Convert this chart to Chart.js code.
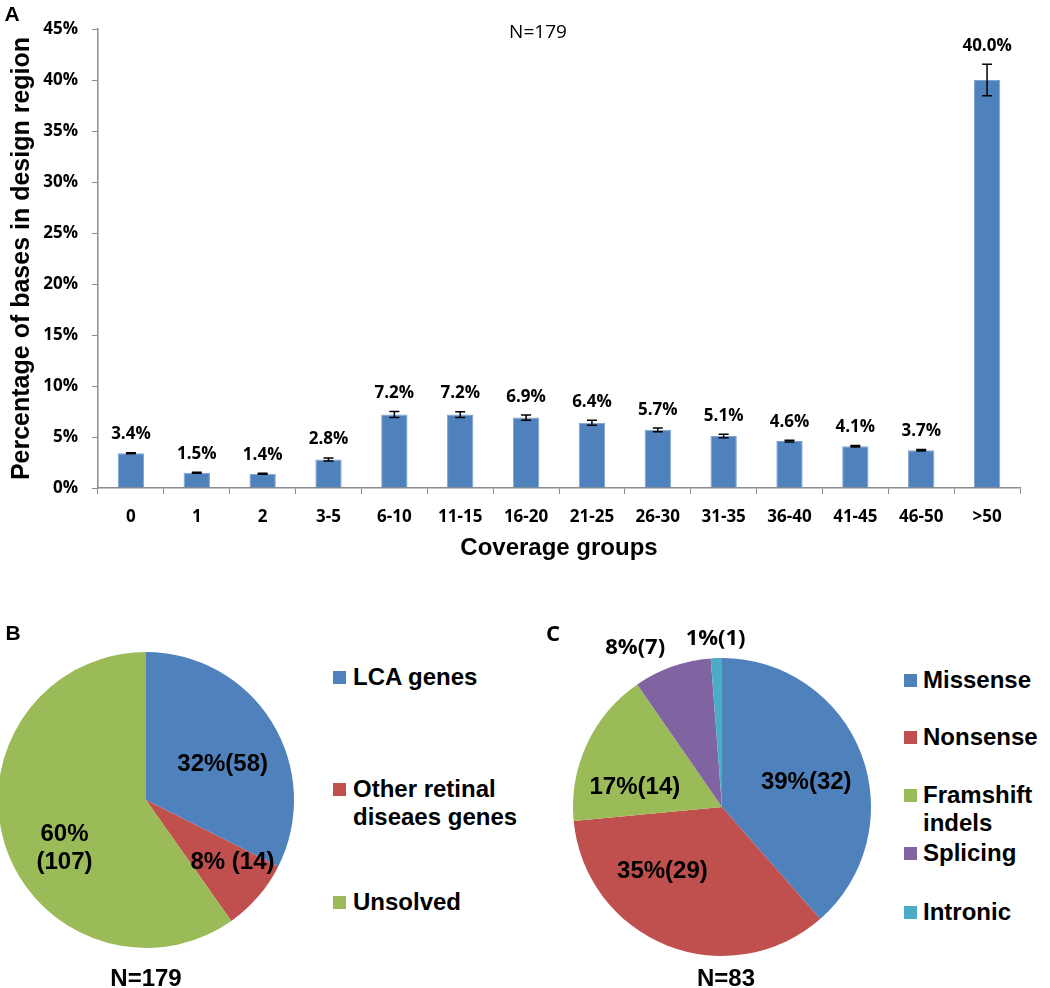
<!DOCTYPE html>
<html>
<head>
<meta charset="utf-8">
<script src="https://cdn.jsdelivr.net/npm/chart.js@4.4.0/dist/chart.umd.min.js"></script>
<style>
  html, body { margin: 0; padding: 0; background: #fff; }
  body { width: 1050px; height: 988px; position: relative; overflow: hidden; font-family: "Liberation Sans", Arial, sans-serif; }
  canvas { position: absolute; }
  .txt { position: absolute; white-space: nowrap; color: #000; font-weight: bold; line-height: 1; transform: translate(-50%, -50%); }
  .leg { position: absolute; white-space: nowrap; color: #000; font-weight: bold; font-size: 24px; line-height: 28px; }
  .sw { position: absolute; width: 13px; height: 13px; }
</style>
</head>
<body>
<canvas id="barChart" width="1050" height="590" style="left:0;top:0"></canvas>
<canvas id="pieB" width="340" height="360" style="left:-20px;top:620px"></canvas>
<canvas id="pieC" width="350" height="360" style="left:547px;top:610px"></canvas>

<div class="txt" style="left:12px;top:13px;font-size:21px">A</div>
<div class="txt" style="left:538px;top:31px;font-family:'Open Sans';font-weight:normal;font-size:19px">N=179</div>
<div class="txt" style="left:13px;top:632px;font-size:21px">B</div>
<div class="txt" style="left:553px;top:632px;font-family:'Open Sans';font-size:22px">C</div>
<div class="txt" style="left:146px;top:978px;font-size:24px">N=179</div>
<div class="txt" style="left:726px;top:978px;font-size:24px">N=83</div>
<div id="legendB"></div>
<div id="legendC"></div>

<script>
// panel A: coverage groups
const coverageGroups = ['0', '1', '2', '3-5', '6-10', '11-15', '16-20', '21-25', '26-30', '31-35', '36-40', '41-45', '46-50', '>50'];
const coveragePct = [3.4, 1.5, 1.4, 2.8, 7.2, 7.2, 6.9, 6.4, 5.7, 5.1, 4.6, 4.1, 3.7, 40.0];
const coverageErr = [0.05, 0.05, 0.05, 0.15, 0.3, 0.28, 0.25, 0.25, 0.18, 0.18, 0.08, 0.07, 0.07, 1.55];
const yTicksMax = 45;
const yTicksStep = 5;

// panel B: solved cases
const solvedLabels = [['LCA genes'], ['Other retinal', 'diseaes genes'], ['Unsolved']];
const solvedCounts = [58, 14, 107];

// panel C: mutation types
const mutationLabels = [['Missense'], ['Nonsense'], ['Framshift', 'indels'], ['Splicing'], ['Intronic']];
const mutationCounts = [32, 29, 14, 7, 1];

const officeColors = ['#4F81BD', '#C0504D', '#9BBB59', '#8064A2', '#4BACC6'];
const axisGray = '#8c8c8c';
const smallFont = 'Open Sans';

// error bars + value labels on top of each bar
const errorBarPlugin = {
    id: 'errorBars',
    afterDatasetsDraw(chart) {
        const ctx = chart.ctx;
        const y = chart.scales.y;
        const meta = chart.getDatasetMeta(0);
        ctx.save();
        ctx.strokeStyle = '#000';
        ctx.lineWidth = 1.5;
        ctx.fillStyle = '#000';
        ctx.font = 'bold 17px "' + smallFont + '"';
        ctx.textAlign = 'center';
        ctx.textBaseline = 'alphabetic';
        meta.data.forEach((bar, i) => {
            const v = coveragePct[i];
            const e = coverageErr[i];
            const top = y.getPixelForValue(v + e);
            const bot = y.getPixelForValue(v - e);
            ctx.beginPath();
            ctx.moveTo(bar.x, top); ctx.lineTo(bar.x, bot);
            ctx.moveTo(bar.x - 5, top); ctx.lineTo(bar.x + 5, top);
            ctx.moveTo(bar.x - 5, bot); ctx.lineTo(bar.x + 5, bot);
            ctx.stroke();
            ctx.fillText(v.toFixed(1) + '%', bar.x, top - 13.5);
        });
        ctx.restore();
    }
};

new Chart(document.getElementById('barChart'), {
    type: 'bar',
    data: {
        labels: coverageGroups,
        datasets: [{
            data: coveragePct,
            backgroundColor: '#4F81BD',
            borderColor: '#7ea3d0',
            borderWidth: 1,
            barPercentage: 0.4,
            categoryPercentage: 1.0
        }]
    },
    options: {
        responsive: false,
        animation: false,
        devicePixelRatio: 1,
        layout: { padding: { left: 0, right: 30, top: 29, bottom: 27.6 } },
        plugins: { legend: { display: false }, tooltip: { enabled: false } },
        scales: {
            x: {
                afterFit(scale) { scale.height = 74.4; },
                grid: { display: true, drawOnChartArea: false, drawTicks: true, tickLength: 6, color: axisGray, offset: true },
                border: { display: true, color: axisGray, width: 1.5 },
                ticks: { color: '#000', font: { family: smallFont, weight: 'bold', size: 17 }, padding: 13, maxRotation: 0 },
                title: { display: true, text: 'Coverage groups', color: '#000', font: { family: 'Liberation Sans', weight: 'bold', size: 24 }, padding: { top: 0, bottom: 0 } }
            },
            y: {
                min: 0,
                max: yTicksMax,
                afterFit(scale) { scale.width = 98; },
                grid: { display: true, drawOnChartArea: false, drawTicks: true, tickLength: 6, color: axisGray },
                border: { display: true, color: axisGray, width: 1.5 },
                ticks: { stepSize: yTicksStep, color: '#000', font: { family: smallFont, weight: 'bold', size: 17 }, padding: 14, callback: v => v + '%' },
                title: { display: true, text: 'Percentage of bases in design region', color: '#000', font: { family: 'Liberation Sans', weight: 'bold', size: 25 }, padding: { top: 7, bottom: 0 } }
            }
        }
    },
    plugins: [errorBarPlugin]
});

// text on pie slices; each label is placed by angle offset (deg) from the slice middle and radius fraction
const pieLabelPlugin = {
    id: 'pieLabels',
    afterDatasetsDraw(chart, args, opts) {
        const ctx = chart.ctx;
        const meta = chart.getDatasetMeta(0);
        const values = chart.data.datasets[0].data;
        const total = values.reduce((a, b) => a + b, 0);
        ctx.save();
        ctx.fillStyle = '#000';
        ctx.textAlign = 'center';
        ctx.textBaseline = 'middle';
        meta.data.forEach((arc, i) => {
            const place = opts.place[i];
            const mid = (arc.startAngle + arc.endAngle) / 2 + place[0] * Math.PI / 180;
            const r = arc.outerRadius * place[1];
            const cx = arc.x + Math.cos(mid) * r;
            const cy = arc.y + Math.sin(mid) * r;
            const pct = Math.round(values[i] / total * 100);
            const text = opts.format[i].replace('{p}', pct).replace('{n}', values[i]);
            const lines = text.split('\n');
            ctx.font = place[2] || 'bold 24px "Liberation Sans"';
            lines.forEach((ln, k) => {
                ctx.fillText(ln, cx, cy + (k - (lines.length - 1) / 2) * 28);
            });
        });
        ctx.restore();
    }
};

function makePie(canvasId, counts, labels, padding, labelOpts) {
    return new Chart(document.getElementById(canvasId), {
        type: 'pie',
        data: {
            labels: labels,
            datasets: [{ data: counts, backgroundColor: officeColors.slice(0, counts.length), borderWidth: 0 }]
        },
        options: {
            responsive: false,
            animation: false,
            devicePixelRatio: 1,
            layout: { padding: padding },
            plugins: { legend: { display: false }, tooltip: { enabled: false }, pieLabels: labelOpts }
        },
        plugins: [pieLabelPlugin]
    });
}

makePie('pieB', solvedCounts, solvedLabels, { left: 18, top: 32, right: 26, bottom: 32 }, {
    format: ['{p}%({n})', '{p}% ({n})', '{p}%\n({n})'],
    place: [[7, 0.57], [-5, 0.72], [-13, 0.64]]
});

makePie('pieC', mutationCounts, mutationLabels, { left: 26, top: 48, right: 26, bottom: 14 }, {
    format: ['{p}%({n})', '{p}%({n})', '{p}%({n})', '{p}%({n})', '{p}%({n})'],
    place: [[4, 0.59], [21, 0.59], [-12, 0.6], [-9, 1.22, 'bold 22px "Open Sans"'], [0, 1.13, 'bold 22px "Open Sans"']]
});

// html legends; y is the centre of each item's first line
function buildLegend(id, labels, swatchX, textX, ys) {
    const host = document.getElementById(id);
    labels.forEach((lines, i) => {
        const sw = document.createElement('div');
        sw.className = 'sw';
        sw.style.left = swatchX + 'px';
        sw.style.top = (ys[i] - 6.5) + 'px';
        sw.style.background = officeColors[i];
        host.appendChild(sw);
        const t = document.createElement('div');
        t.className = 'leg';
        t.style.left = textX + 'px';
        t.style.top = (ys[i] - 14) + 'px';
        t.innerHTML = lines.join('<br>');
        host.appendChild(t);
    });
}
buildLegend('legendB', solvedLabels, 333, 353, [677, 789, 902]);
buildLegend('legendC', mutationLabels, 904, 923, [680, 737, 795, 853, 912]);
</script>
</body>
</html>
